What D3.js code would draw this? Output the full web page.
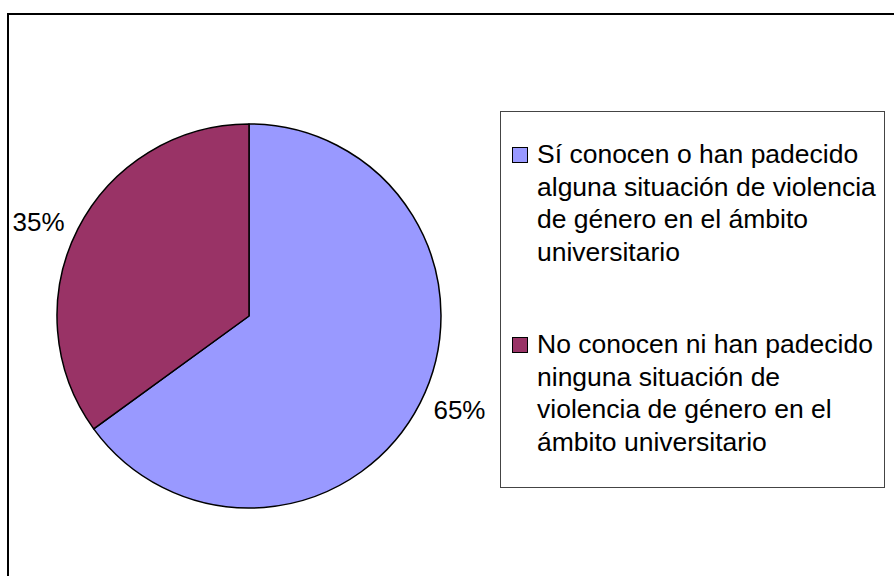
<!DOCTYPE html>
<meta charset="utf-8">
<style>
  body { margin: 0; background: #fff; }
  svg { display: block; font-family: "Liberation Sans", Arial, sans-serif; }
</style>
<body>
<div id="chart"></div>
<script src="https://d3js.org/d3.v7.min.js"></script>
<script>
  // data
  const categories = ["si", "no"];
  const values = [65, 35];
  const pctLabels = ["65%", "35%"];
  const legendLines = [
    ["Sí conocen o han padecido", "alguna situación de violencia", "de género en el ámbito", "universitario"],
    ["No conocen ni han padecido", "ninguna situación de", "violencia de género en el", "ámbito universitario"]
  ];
  const colors = ["#9999ff", "#993366"];

  const width = 894, height = 576;
  const svg = d3.select("#chart").append("svg")
    .attr("width", width)
    .attr("height", height);

  // outer frame (runs off right/bottom edge)
  svg.append("rect")
    .attr("x", 8).attr("y", 14)
    .attr("width", 920).attr("height", 620)
    .attr("fill", "none")
    .attr("stroke", "#000")
    .attr("stroke-width", 2);

  const cx = 249, cy = 316, r = 192;
  const color = d3.scaleOrdinal().domain(categories).range(colors);

  const pie = d3.pie().sort(null).value(d => d.value);
  const arcs = pie(categories.map((c, i) => ({ key: c, value: values[i], label: pctLabels[i] })));
  const arc = d3.arc().innerRadius(0).outerRadius(r);
  const labelArc = d3.arc().innerRadius(207).outerRadius(207);

  const g = svg.append("g").attr("transform", `translate(${cx},${cy})`);
  g.selectAll("path")
    .data(arcs)
    .join("path")
    .attr("d", arc)
    .attr("fill", d => color(d.data.key))
    .attr("stroke", "#000")
    .attr("stroke-width", 1.5)
    .attr("stroke-linejoin", "round");

  // labels sit just outside the rim, anchored on the side they fall
  g.selectAll("text.pct")
    .data(arcs)
    .join("text")
    .attr("class", "pct")
    .attr("x", d => labelArc.centroid(d)[0])
    .attr("y", d => labelArc.centroid(d)[1])
    .attr("dy", "0.35em")
    .attr("text-anchor", d => labelArc.centroid(d)[0] < 0 ? "end" : "start")
    .attr("font-size", 26)
    .attr("fill", "#000")
    .text(d => d.data.label);

  // legend
  svg.append("rect")
    .attr("x", 500.5).attr("y", 111.5)
    .attr("width", 384).attr("height", 376)
    .attr("fill", "#fff")
    .attr("stroke", "#444")
    .attr("stroke-width", 1);

  const lineH = 32.7;
  const entryY = d3.scaleOrdinal().domain(categories).range([163, 353]);

  const items = svg.selectAll("g.leg")
    .data(categories)
    .join("g")
    .attr("class", "leg")
    .attr("transform", d => `translate(0,${entryY(d)})`);

  items.append("rect")
    .attr("x", 512.5).attr("y", -15.5)
    .attr("width", 15).attr("height", 15)
    .attr("fill", d => color(d))
    .attr("stroke", "#000")
    .attr("stroke-width", 1);

  items.append("text")
    .attr("font-size", 26.5)
    .attr("fill", "#000")
    .selectAll("tspan")
    .data((d, i) => legendLines[i])
    .join("tspan")
    .attr("x", 537)
    .attr("y", (d, i) => i * lineH)
    .text(d => d);
</script>
</body>
</html>
